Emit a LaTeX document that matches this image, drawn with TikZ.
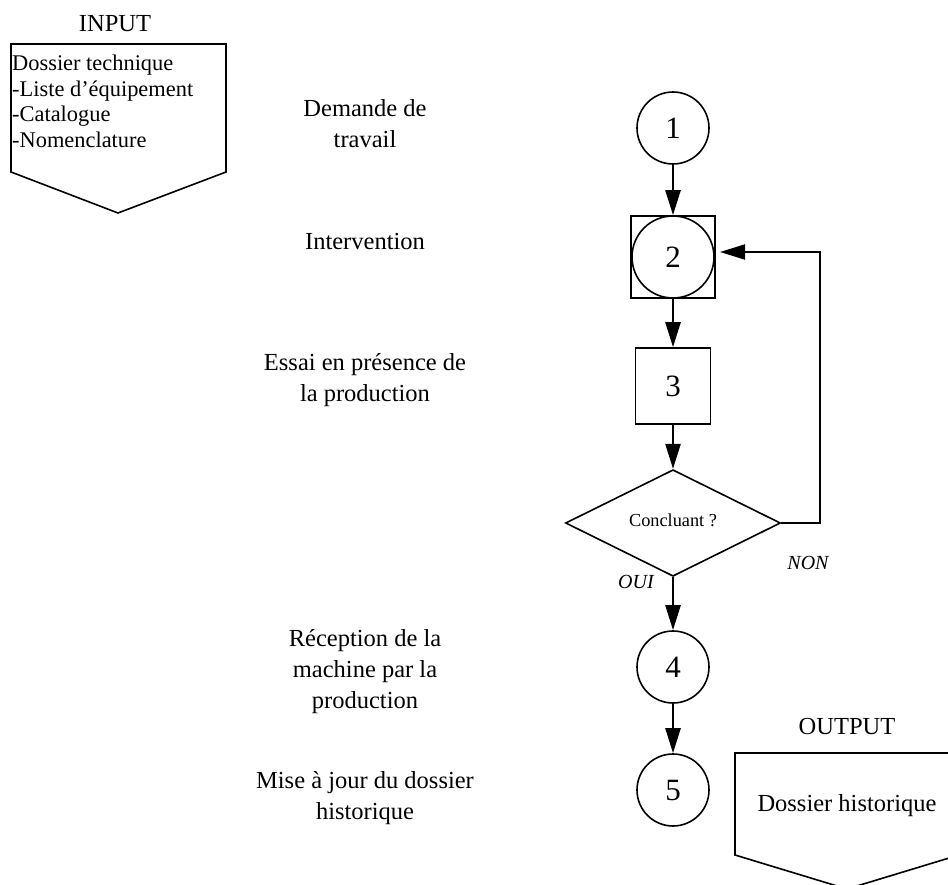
\documentclass[tikz,border=0pt]{standalone}
\usepackage{fontspec}
\setmainfont{Liberation Serif}
\usetikzlibrary{arrows.meta,shapes.geometric}
\newcommand{\mybig}{\fontsize{24.5}{31}\selectfont}
\newcommand{\mydigit}{\fontsize{31}{31}\selectfont}
\newcommand{\mymid}{\fontsize{22.4}{25.6}\selectfont}
\newcommand{\mysmall}{\fontsize{18.3}{22}\selectfont}
\newcommand{\myital}{\fontsize{20}{24}\selectfont\itshape}
\begin{document}
\begin{tikzpicture}[x=1pt,y=-1pt,
  shapeline/.style={draw=black,line width=1.6pt},
  circnode/.style={shapeline,circle,minimum size=72pt,inner sep=0pt,font=\mydigit},
  arr/.style={draw=black,line width=2.4pt,-{Triangle[length=25pt,width=15pt]}},
  lefttext/.style={align=center,font=\mybig,inner sep=0pt}
]
\useasboundingbox (0,0) rectangle (948,885);

% INPUT
\node[font=\mybig,inner sep=0pt] (inlabel) at (115,24) {INPUT};
\draw[shapeline] (11,44) -- (226,44) -- (226,172) -- (118,213) -- (11,172) -- cycle;
\node[anchor=north west,align=left,inner sep=0pt,font=\mymid] (intext) at (12,55)
  {Dossier technique\\-Liste d’équipement\\-Catalogue\\-Nomenclature};

% OUTPUT
\node[font=\mybig,inner sep=0pt] (outlabel) at (847,727) {OUTPUT};
\draw[shapeline] (735,753) -- (959,753) -- (959,855) -- (847,889) -- (735,855) -- cycle;
\node[font=\mybig,inner sep=0pt] (outtext) at (847,806) {Dossier historique};

% left descriptions
\node[lefttext] (t1) at (365,124) {Demande de\\travail};
\node[lefttext] (t2) at (365,242) {Intervention};
\node[lefttext] (t3) at (365,380) {Essai en présence de\\la production};
\node[lefttext] (t4) at (365,672) {Réception de la\\machine par la\\production};
\node[lefttext] (t5) at (365,798) {Mise à jour du dossier\\historique};

% flow
\node[circnode] (c1) at (673,128) {1};
\node[shapeline,rectangle,minimum width=84pt,minimum height=82pt,inner sep=0pt] (sq2) at (673,257) {};
\node[circnode,minimum size=82pt] (c2) at (673,257) {2};
\node[shapeline,rectangle,minimum width=75pt,minimum height=76pt,inner sep=0pt,font=\mydigit] (sq3) at (673,386) {3};
\node[shapeline,diamond,minimum width=215pt,minimum height=91pt,inner sep=0pt,font=\mysmall] (dec) at (673,523) {\raisebox{6pt}{Concluant ?}};
\node[circnode] (c4) at (673,667) {4};
\node[circnode] (c5) at (673,790) {5};

\draw[arr] (c1.south) -- (sq2.north);
\draw[arr] (sq2.south) -- (sq3.north);
\draw[arr] (sq3.south) -- (dec.north);
\draw[arr] (dec.south) -- (c4.north);
\draw[arr] (c4.south) -- (c5.north);

\coordinate (fb) at (820,252);
\coordinate (fbend) at (720,252);
\draw[draw=black,line width=2pt] (dec.east) -- (dec.east -| fb) -- (fb) -- ([xshift=20pt]fbend);
\draw[arr,line width=2pt] (fb) -- (fbend);

\node[font=\myital,inner sep=0pt] (oui) at (636,582) {OUI};
\node[font=\myital,inner sep=0pt] (non) at (808,563) {NON};
\end{tikzpicture}
\end{document}
